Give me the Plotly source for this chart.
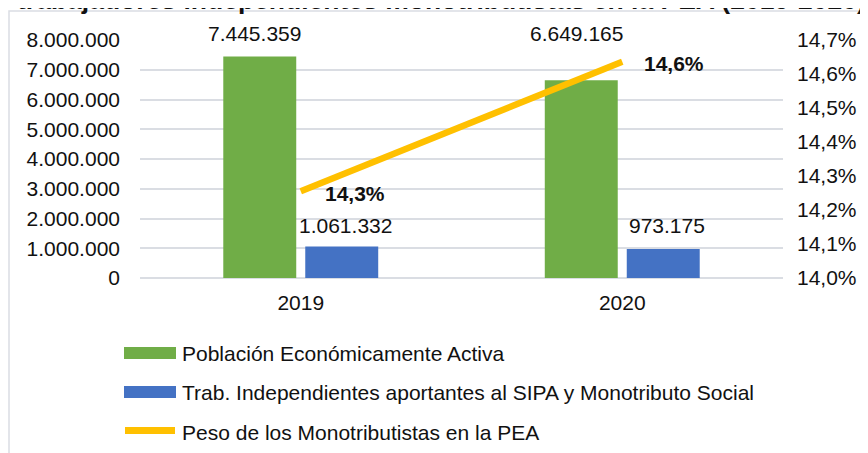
import plotly.graph_objects as go

# Data
years = ["2019", "2020"]
pea = [7445359, 6649165]
independientes = [1061332, 973175]
peso_pct = [14.255, 14.636]

SERIES_NAMES = [
    "Población Económicamente Activa",
    "Trab. Independientes aportantes al SIPA y Monotributo Social",
    "Peso de los Monotributistas en la PEA",
]
TITLE_LINE = "trabajadores independientes monotributistas en la PEA (2019-2020)"

GREEN = "#70ad47"
BLUE = "#4472c4"
YELLOW = "#ffc000"
GRID = "#dadde3"
TXT = "#111111"
FONT = "Liberation Sans, Arial, sans-serif"
FS = 21

# the page body has an 8px margin, so the figure is placed at (8, 8)
PAGE_OFF = 8
W, H = 868 - PAGE_OFF, 453 - PAGE_OFF
PLOT_L, PLOT_R, PLOT_T, PLOT_B = 140, 783, 40, 278   # window pixels
ML, MT = PLOT_L - PAGE_OFF, PLOT_T - PAGE_OFF
MR, MB = W - (PLOT_R - PAGE_OFF), H - (PLOT_B - PAGE_OFF)
PW, PH = PLOT_R - PLOT_L, PLOT_B - PLOT_T


def px_x(p):
    return (p - PLOT_L) / PW


def px_y(p):
    return (PLOT_B - p) / PH


def fmt_int(v):
    return f"{v:,}".replace(",", ".")


fig = go.Figure()

fig.add_trace(go.Bar(
    x=years, y=pea, name=SERIES_NAMES[0],
    marker=dict(color=GREEN, line=dict(width=0)),
    showlegend=False,
))
fig.add_trace(go.Bar(
    x=years, y=independientes, name=SERIES_NAMES[1],
    marker=dict(color=BLUE, line=dict(width=0)),
    showlegend=False,
))
fig.add_trace(go.Scatter(
    x=years, y=peso_pct, name=SERIES_NAMES[2], yaxis="y2",
    mode="lines", line=dict(color=YELLOW, width=6.5),
    showlegend=False,
))

annotations = []

# value labels (Excel labels were dragged, so fixed heights)
# numeric-looking category names would be read as indexes, so use index
for i, v in enumerate(pea):
    annotations.append(dict(
        x=i, xref="x", xshift=-46, y=px_y(33), yref="paper",
        text=fmt_int(v), showarrow=False, yanchor="middle",
        font=dict(size=FS, color=TXT),
    ))
for i, v in enumerate(independientes):
    annotations.append(dict(
        x=i, xref="x", xshift=45, y=px_y(225), yref="paper",
        text=fmt_int(v), showarrow=False, yanchor="middle",
        font=dict(size=FS, color=TXT),
    ))
for i, v in enumerate(peso_pct):
    annotations.append(dict(
        x=i, xref="x", xshift=[22, 20][i], y=v, yref="y2", yshift=-2,
        text=f"<b>{v:.1f}%</b>".replace(".", ","), showarrow=False,
        xanchor="left", yanchor="middle",
        font=dict(size=FS, color=TXT),
    ))

# title line, cut at the top as in the reference
annotations.append(dict(
    x=px_x(441), xref="paper", y=px_y(0), yref="paper",
    text=f"<b>{TITLE_LINE}</b>", showarrow=False,
    xanchor="center", yanchor="middle",
    font=dict(size=26.5, color=TXT),
))

# manual legend
shapes = []
rows = [353, 392, 432]
for i, (name, yrow) in enumerate(zip(SERIES_NAMES, rows)):
    if i < 2:
        shapes.append(dict(
            type="rect", xref="paper", yref="paper",
            x0=px_x(124), x1=px_x(176), y0=px_y(yrow - 6), y1=px_y(yrow + 6),
            fillcolor=[GREEN, BLUE][i], line=dict(width=0),
        ))
    else:
        shapes.append(dict(
            type="line", xref="paper", yref="paper",
            x0=px_x(125), x1=px_x(175), y0=px_y(yrow - 1.5), y1=px_y(yrow - 1.5),
            line=dict(color=YELLOW, width=7),
        ))
    annotations.append(dict(
        x=px_x(180), xref="paper", y=px_y(yrow), yref="paper",
        text=name, showarrow=False, xanchor="left", yanchor="middle",
        font=dict(size=FS, color=TXT),
    ))

# outer chart border
shapes.append(dict(
    type="rect", xref="paper", yref="paper",
    x0=px_x(9), x1=px_x(900), y0=px_y(480), y1=px_y(11),
    line=dict(color=GRID, width=1.5), fillcolor="rgba(0,0,0,0)",
    layer="below",
))

fig.update_layout(
    width=W, height=H,
    margin=dict(l=ML, r=MR, t=MT, b=MB),
    paper_bgcolor="white", plot_bgcolor="white",
    font=dict(family=FONT, size=FS, color=TXT),
    separators=",.",
    barmode="group", bargap=0.49, bargroupgap=0.11,
    showlegend=False,
    annotations=annotations,
    shapes=shapes,
    xaxis=dict(
        type="category", range=[-0.5, 1.5],
        showgrid=False, showline=False, ticks="",
        ticklabelstandoff=10,
    ),
    yaxis=dict(
        range=[0, 8000000], dtick=1000000, tickformat=",d",
        showgrid=True, gridcolor=GRID, gridwidth=1.5,
        zeroline=True, zerolinecolor=GRID, zerolinewidth=1.5,
        ticklabelstandoff=19,
    ),
    yaxis2=dict(
        range=[14.0, 14.7], dtick=0.1, tickformat=".1f", ticksuffix="%",
        overlaying="y", side="right", showgrid=False, zeroline=False,
        ticklabelstandoff=13,
    ),
)

fig.write_html("out.html")
